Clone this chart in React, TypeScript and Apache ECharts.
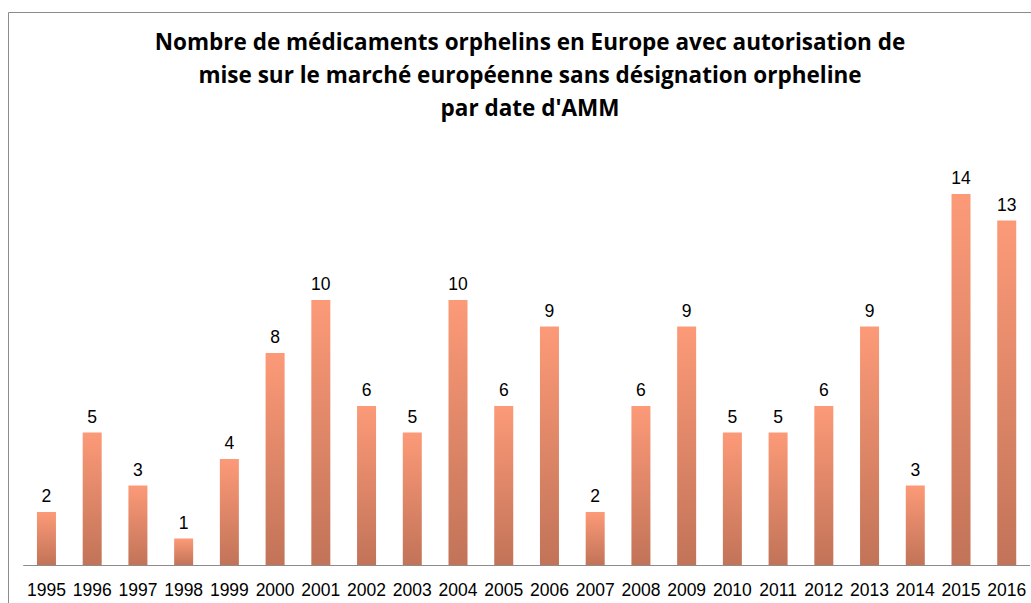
import React, { useEffect, useRef } from "react";
import * as echarts from "echarts";

const years = ["1995","1996","1997","1998","1999","2000","2001","2002","2003","2004","2005","2006","2007","2008","2009","2010","2011","2012","2013","2014","2015","2016"];
const counts = [2,5,3,1,4,8,10,6,5,10,6,9,2,6,9,5,5,6,9,3,14,13];
const titleLines = [
  "Nombre de médicaments orphelins en Europe avec autorisation de",
  "mise sur le marché européenne sans désignation orpheline",
  "par date d'AMM",
];

export default function App() {
  const ref = useRef<HTMLDivElement>(null);
  useEffect(() => {
    if (!ref.current) return;
    const chart = echarts.init(ref.current, null, { renderer: "svg" });
    chart.setOption({
      animation: false,
      backgroundColor: "#ffffff",
      title: {
        text: titleLines.join("\n"),
        left: 525,
        top: 20,
        textAlign: "center",
        textStyle: {
          fontFamily: "'Open Sans', sans-serif",
          fontWeight: "bold",
          fontSize: 22.5,
          lineHeight: 33,
          color: "#000000",
        },
      },
      graphic: [
        {
          type: "rect",
          shape: { x: 8.5, y: 12.5, width: 1100, height: 700 },
          style: { fill: "none", stroke: "#8c8c8c", lineWidth: 1 },
          silent: true,
          z: 0,
        },
      ],
      grid: { left: 23.6, right: 1.4, top: 141, bottom: 38 },
      xAxis: {
        type: "category",
        data: years,
        axisLine: { show: true, lineStyle: { color: "#8c8c8c", width: 1 } },
        axisTick: { show: false },
        axisLabel: {
          interval: 0,
          margin: 16,
          fontFamily: "'Liberation Sans', sans-serif",
          fontSize: 17.5,
          color: "#000000",
        },
      },
      yAxis: {
        type: "value",
        min: 0,
        max: 16,
        interval: 2,
        show: false,
        splitLine: { show: false },
      },
      series: [
        {
          type: "bar",
          data: counts,
          barWidth: 19,
          itemStyle: {
            color: new echarts.graphic.LinearGradient(0, 0, 0, 1, [
              { offset: 0, color: "#FC9A78" },
              { offset: 1, color: "#C27358" },
            ]),
          },
          label: {
            show: true,
            position: "top",
            distance: 7,
            fontFamily: "'Liberation Sans', sans-serif",
            fontSize: 17.5,
            color: "#000000",
          },
        },
      ],
    });
    return () => chart.dispose();
  }, []);
  return (
    <div
      ref={ref}
      style={{ position: "absolute", left: 0, top: 0, width: 1031, height: 603 }}
    />
  );
}
